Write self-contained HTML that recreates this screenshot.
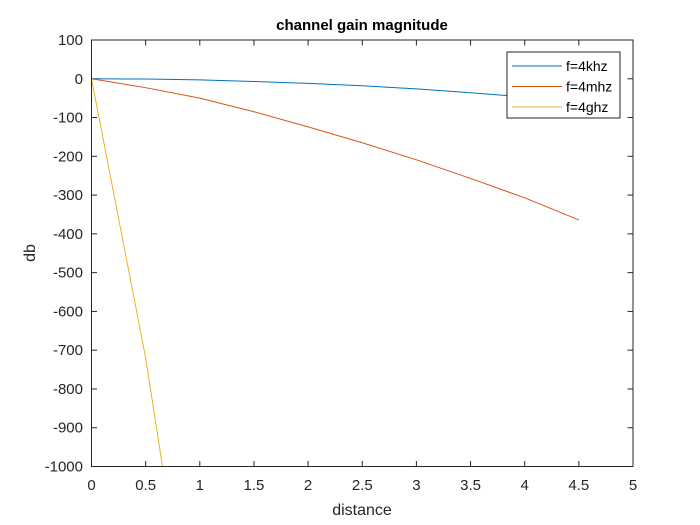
<!DOCTYPE html>
<html><head><meta charset="utf-8"><style>
html,body{margin:0;background:#fff;overflow:hidden;width:700px;height:525px}
svg{display:block;font-family:"Liberation Sans",Arial,sans-serif}
</style></head><body>
<svg id="chart" width="700" height="525">
<rect width="700" height="525" fill="#fff"/>
<defs><clipPath id="pc"><rect x="91.5" y="40" width="541.5" height="426.5"/></clipPath></defs>
<g id="grid"></g>
<g id="series" clip-path="url(#pc)"></g>
<rect x="91.5" y="40" width="541.5" height="426.5" fill="none" stroke="#262626" stroke-width="1"/>
<text x="362" y="30" text-anchor="middle" font-size="15" font-weight="bold" fill="#000">channel gain magnitude</text>
<text x="362" y="515" text-anchor="middle" font-size="16" fill="#262626">distance</text>
<text x="0" y="0" transform="translate(35,253) rotate(-90)" text-anchor="middle" font-size="16" fill="#262626">db</text>
<g>
<rect x="507" y="52" width="113" height="66" fill="#fff" stroke="#262626" stroke-width="1"/>
<g id="legend"></g>
</g>
</svg>
<script>
const xTicks=[0,0.5,1,1.5,2,2.5,3,3.5,4,4.5,5];
const yTicks=[100,0,-100,-200,-300,-400,-500,-600,-700,-800,-900,-1000];
const seriesNames=["f=4khz","f=4mhz","f=4ghz"];
const colors=["#0072BD","#D95319","#EDB120"];
const xKhz=[0,0.5,1,1.5,2,2.5,3,3.5,4,4.5];
const yKhz=[0,-0.7,-3,-7,-12,-18,-26,-36,-47,-60];
const xMhz=[0,0.5,1,1.5,2,2.5,3,3.5,4,4.5];
const yMhz=[0,-23,-50,-85,-124,-165,-209,-257,-307,-364];
const xGhz=[0,0.5,1];
const yGhz=[0,-720,-1620];
const X=v=>91.5+(v-0)/5*541.5;
const Y=v=>40+(100-v)/1100*426.5;
const NS="http://www.w3.org/2000/svg";
function mk(tag,attrs,parent){const e=document.createElementNS(NS,tag);for(const k in attrs)e.setAttribute(k,attrs[k]);parent.appendChild(e);return e;}
const g=document.getElementById('grid');
xTicks.forEach(t=>{
 const l=mk('line',{x1:X(t),x2:X(t),y1:466.5,y2:461},g);l.setAttribute('stroke','#262626');
 
 
 const l2=mk('line',{x1:X(t),x2:X(t),y1:40,y2:45.5,stroke:'#262626'},g);
 
 
 const tx=mk('text',{x:X(t),y:490,'text-anchor':'middle','font-size':'15',fill:'#262626'},g);tx.textContent=t;
 
 
});
yTicks.forEach(t=>{
 const l=mk('line',{x1:91.5,x2:97,y1:Y(t),y2:Y(t),stroke:'#262626'},g);
 
 
 const l2=mk('line',{x1:627.5,x2:633,y1:Y(t),y2:Y(t),stroke:'#262626'},g);
 
 
 const tx=mk('text',{x:83,y:Y(t)+5,'text-anchor':'end','font-size':'15',fill:'#262626'},g);tx.textContent=t;
 
 
});
const s=document.getElementById('series');
[[xKhz,yKhz],[xMhz,yMhz],[xGhz,yGhz]].forEach((d,i)=>{
 const p=mk('polyline',{points:d[0].map((x,j)=>X(x)+','+Y(d[1][j])).join(' '),fill:'none',stroke:colors[i],'stroke-width':'1'},s);
 
 
});
const lg=document.getElementById('legend');
seriesNames.forEach((n,i)=>{
 const y=66+i*20.5;
 const l=mk('line',{x1:512,x2:562,y1:y,y2:y,stroke:colors[i]},lg);
 
 
 const t=mk('text',{x:566,y:y+5,'font-size':'14',fill:'#000'},lg);t.textContent=n;
 
 
});
</script>
</body></html>
